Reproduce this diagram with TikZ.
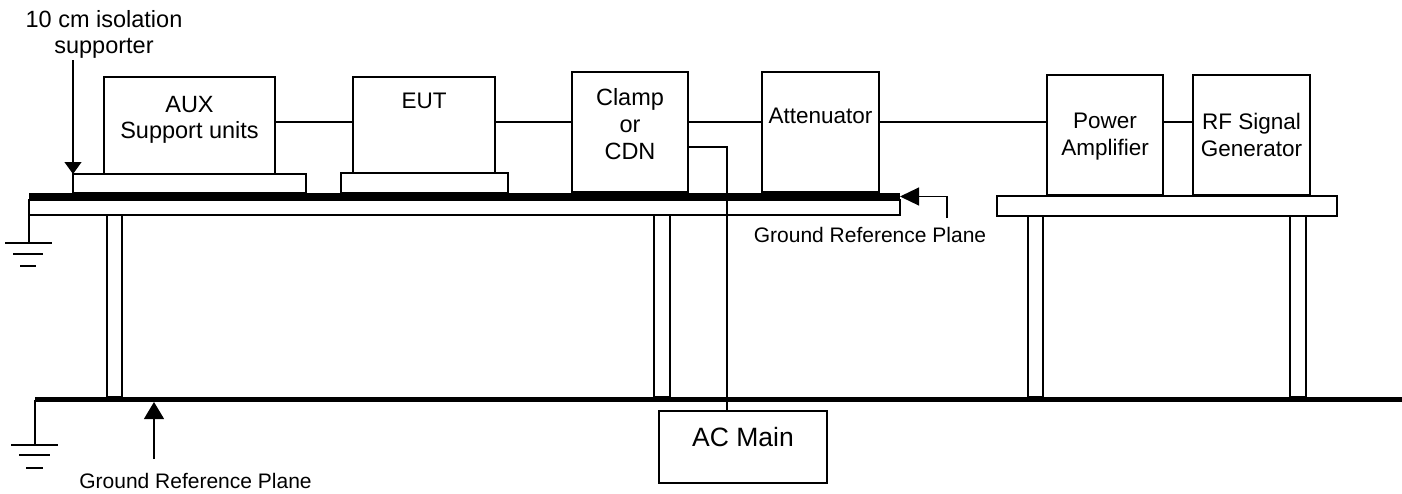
\documentclass[tikz,border=0pt]{standalone}
\usepackage{fontspec}
\setmainfont{Liberation Sans}
\usetikzlibrary{arrows.meta}
\begin{document}
\begin{tikzpicture}[x=1pt,y=-1pt,
  wire/.style={line width=1.2pt},
  box/.style={draw,line width=1.2pt,inner sep=0pt,outer sep=0pt,fill=white},
  plane/.style={fill=black,inner sep=0pt,outer sep=0pt},
  txt/.style={inner sep=0pt,anchor=north,align=center,font=\fontsize{22.5}{26.5}\selectfont},
  lbl/.style={inner sep=0pt,anchor=north,align=center,font=\fontsize{21}{24}\selectfont},
  tipA/.style={-{Triangle[length=12pt,width=17pt]}},
  tipB/.style={-{Triangle[length=19pt,width=18pt]}},
  tipC/.style={-{Triangle[length=17pt,width=20pt]}}
]
\useasboundingbox (0,0) rectangle (1402,493);

% legs
\node[box,minimum width=15pt,minimum height=182pt] (leg1) at (114.5,306) {};
\node[box,minimum width=16pt,minimum height=182pt] (leg2) at (662,306) {};
\node[box,minimum width=15pt,minimum height=181pt] (leg3) at (1035.5,306.5) {};
\node[box,minimum width=16pt,minimum height=181pt] (leg4) at (1298,306.5) {};

% table tops and ground planes
\node[box,minimum width=871pt,minimum height=15pt] (tabletop) at (464.5,207.5) {};
\node[plane,minimum width=871pt,minimum height=7pt] (grp1) at (464.5,196.5) {};
\node[box,minimum width=340pt,minimum height=20pt] (rtable) at (1167,206) {};
\node[plane,minimum width=1367pt,minimum height=5pt] (grp2) at (718.5,399.5) {};

% supporters
\node[box,minimum width=233pt,minimum height=19pt] (auxslab) at (189.5,183.5) {};
\node[box,minimum width=167pt,minimum height=20pt] (eutslab) at (424.5,183) {};

% equipment boxes
\node[box,minimum width=171pt,minimum height=97pt] (aux) at (189.5,125.5) {};
\node[box,minimum width=142pt,minimum height=96pt] (eut) at (424,125) {};
\node[box,minimum width=116pt,minimum height=120pt] (clamp) at (630,132) {};
\node[box,minimum width=117pt,minimum height=120pt] (att) at (820.5,132) {};
\node[box,minimum width=116pt,minimum height=120pt] (pa) at (1105,135) {};
\node[box,minimum width=117pt,minimum height=120pt] (rf) at (1251.5,135) {};
\node[box,minimum width=168pt,minimum height=72pt] (acmain) at (743,447) {};

% texts
\node[txt,font=\fontsize{23.5}{26.5}\selectfont] (t10) at (104,10) {10 cm isolation\\supporter};
\node[txt,font=\fontsize{23.5}{26.5}\selectfont] (auxt) at (189.5,96) {AUX\\Support units};
\node[txt] (eutt) at (424,93) {EUT};
\node[txt,font=\fontsize{23.5}{27}\selectfont] (clampt) at (630,88) {Clamp\\or\\CDN};
\node[txt] (attt) at (820.5,108) {Attenuator};
\node[txt] (pat) at (1105,113) {Power\\Amplifier};
\node[txt] (rft) at (1251.5,113) {RF Signal\\Generator};
\node[txt,font=\fontsize{26.5}{30}\selectfont] (act) at (743,427) {AC Main};
\node[lbl] (grpt1) at (870,227) {Ground Reference Plane};
\node[lbl] (grpt2) at (195.5,473) {Ground Reference Plane};

% signal connections
\coordinate (bus) at (0,122);
\coordinate (tap) at (0,147);
\coordinate (drop) at (727,0);
\draw[wire] (aux.east |- bus) -- (eut.west |- bus);
\draw[wire] (eut.east |- bus) -- (clamp.west |- bus);
\draw[wire] (clamp.east |- bus) -- (att.west |- bus);
\draw[wire] (att.east |- bus) -- (pa.west |- bus);
\draw[wire] (pa.east |- bus) -- (rf.west |- bus);
\draw[wire] (clamp.east |- tap) -| (drop |- acmain.north);

% arrows
\coordinate (supA) at (73,60);
\draw[wire,tipA] (supA) -- (auxslab.north west);
\coordinate (g1a) at (947,218);
\draw[wire,tipB] (g1a) |- (grp1.east);
\coordinate (g2a) at (154,459);
\draw[wire,tipC] (g2a) -- (g2a |- grp2.south);

% ground symbols
\coordinate (e1) at (29,243);
\draw[wire] (tabletop.north west) -- (e1);
\draw[wire] (5,243) -- (52,243) (13,254) -- (43,254) (20,266) -- (36,266);
\coordinate (e2) at (35,445);
\draw[wire] (grp2.west) -- (e2);
\draw[wire] (11,445) -- (58,445) (19,455) -- (50,455) (26,468) -- (43,468);
\end{tikzpicture}
\end{document}
